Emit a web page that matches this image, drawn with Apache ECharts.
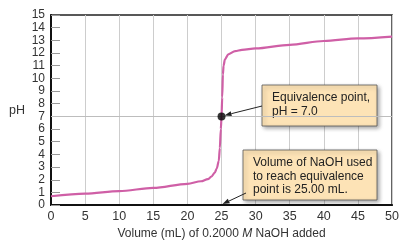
<!DOCTYPE html>
<html>
<head>
<meta charset="utf-8">
<script src="https://cdn.jsdelivr.net/npm/echarts@6/dist/echarts.min.js"></script>
<style>
  html, body { margin: 0; padding: 0; background: #fff; }
  #chart { width: 402px; height: 245px; }
</style>
</head>
<body>
<div id="chart"></div>
<script>
// titration curve
var volumes  = [0, 5, 10, 15, 20, 22, 23, 23.5, 24, 24.3, 24.6, 24.75, 24.9, 25, 25.1, 25.2, 25.3, 25.5, 26, 27, 28, 30, 35, 40, 45, 50];
var phValues = [0.7, 0.9, 1.1, 1.36, 1.68, 1.88, 2.05, 2.24, 2.55, 2.88, 3.5, 4.5, 6, 7, 8.5, 10.3, 11.0, 11.5, 11.9, 12.15, 12.25, 12.36, 12.65, 12.95, 13.15, 13.3];
var equivPoint = [25, 7];
var xTicks = [0, 5, 10, 15, 20, 25, 30, 35, 40, 45, 50];
var yTicks = [0, 1, 2, 3, 4, 5, 6, 7, 8, 9, 10, 11, 12, 13, 14, 15];

var note1 = ['Equivalence point,', 'pH = 7.0'];
var note2 = ['Volume of NaOH used', 'to reach equivalence', 'point is 25.00 mL.'];

var FONT = 'Liberation Sans, Arial, sans-serif';
var curve = volumes.map(function (v, i) { return [v, phValues[i]]; });

var chart = echarts.init(document.getElementById('chart'));

chart.setOption({
  animation: false,
  grid: {
    left: 51, right: 7, top: 15, bottom: 34,
    show: true, borderColor: '#222', borderWidth: 1.5
  },
  xAxis: {
    type: 'value',
    min: xTicks[0], max: xTicks[xTicks.length - 1], interval: 5,
    axisLine: { lineStyle: { color: '#111', width: 2 } },
    axisTick: { show: false },
    axisLabel: { color: '#333', fontSize: 12.5, fontFamily: FONT, margin: 5 },
    splitLine: { show: true, lineStyle: { color: '#cdcdcd', width: 1 } },
    name: '{a|Volume (mL) of 0.2000 }{i|M}{a| NaOH added}',
    nameLocation: 'middle', nameGap: 22,
    nameTextStyle: {
      rich: {
        a: { color: '#333', fontSize: 12, fontFamily: FONT },
        i: { color: '#333', fontSize: 12, fontFamily: FONT, fontStyle: 'italic' }
      }
    }
  },
  yAxis: {
    type: 'value',
    min: yTicks[0], max: yTicks[yTicks.length - 1], interval: 1,
    axisLine: { show: true, lineStyle: { color: '#111', width: 2 } },
    axisTick: { show: true, inside: true, length: 9, lineStyle: { color: '#999' } },
    axisLabel: { color: '#333', fontSize: 12, fontFamily: FONT, margin: 6 },
    splitLine: { show: false },
    name: 'pH', nameLocation: 'middle', nameRotate: 0, nameGap: 26,
    nameTextStyle: { color: '#333', fontSize: 12.5, fontFamily: FONT }
  },
  series: [
    {
      type: 'line',
      data: curve,
      smooth: 0.3,
      smoothMonotone: 'x',
      showSymbol: false,
      lineStyle: { color: '#cf5fa6', width: 2.2 },
      z: 3,
      markLine: {
        silent: true, symbol: 'none',
        label: { show: false },
        lineStyle: { color: '#bdbdbd', width: 1, type: 'solid' },
        data: [{ yAxis: equivPoint[1] }],
        z: 1
      }
    },
    {
      type: 'scatter',
      data: [equivPoint],
      symbolSize: 8,
      itemStyle: { color: '#000' },
      z: 5
    }
  ]
});

function noteBox(x, y, w, h, lines) {
  return {
    type: 'group', x: x, y: y, z: 20,
    children: [
      {
        type: 'rect', shape: { x: 0, y: 0, width: w, height: h },
        style: {
          fill: '#fde3b6', stroke: '#555', lineWidth: 0.8,
          shadowBlur: 4, shadowOffsetX: 2, shadowOffsetY: 2, shadowColor: 'rgba(0,0,0,0.35)'
        }
      },
      {
        type: 'text', x: 10, y: 6,
        style: {
          text: lines.join('\n'), fill: '#222', font: '12px ' + FONT, lineHeight: 13.5
        }
      }
    ]
  };
}

function arrow(from, to) {
  var dx = to[0] - from[0], dy = to[1] - from[1];
  var len = Math.sqrt(dx * dx + dy * dy);
  var ux = dx / len, uy = dy / len;
  var hl = 7, hw = 2.5;
  var bx = to[0] - ux * hl, by = to[1] - uy * hl;
  return [
    { type: 'line', z: 19, shape: { x1: from[0], y1: from[1], x2: bx, y2: by },
      style: { stroke: '#222', lineWidth: 1 } },
    { type: 'polygon', z: 19,
      shape: { points: [[to[0], to[1]], [bx - uy * hw, by + ux * hw], [bx + uy * hw, by - ux * hw]] },
      style: { fill: '#222' } }
  ];
}

var tip1 = chart.convertToPixel({ gridIndex: 0 }, equivPoint);
var tip2 = chart.convertToPixel({ gridIndex: 0 }, [equivPoint[0], 0]);

var graphics = [noteBox(262, 85, 115, 41, note1), noteBox(243, 150, 134, 50, note2)];
graphics = graphics.concat(arrow([262, 106], [tip1[0] + 3, tip1[1] - 1]));
graphics = graphics.concat(arrow([246, 193], [tip2[0] + 1, tip2[1] - 1]));

chart.setOption({ graphic: graphics });
</script>
</body>
</html>
